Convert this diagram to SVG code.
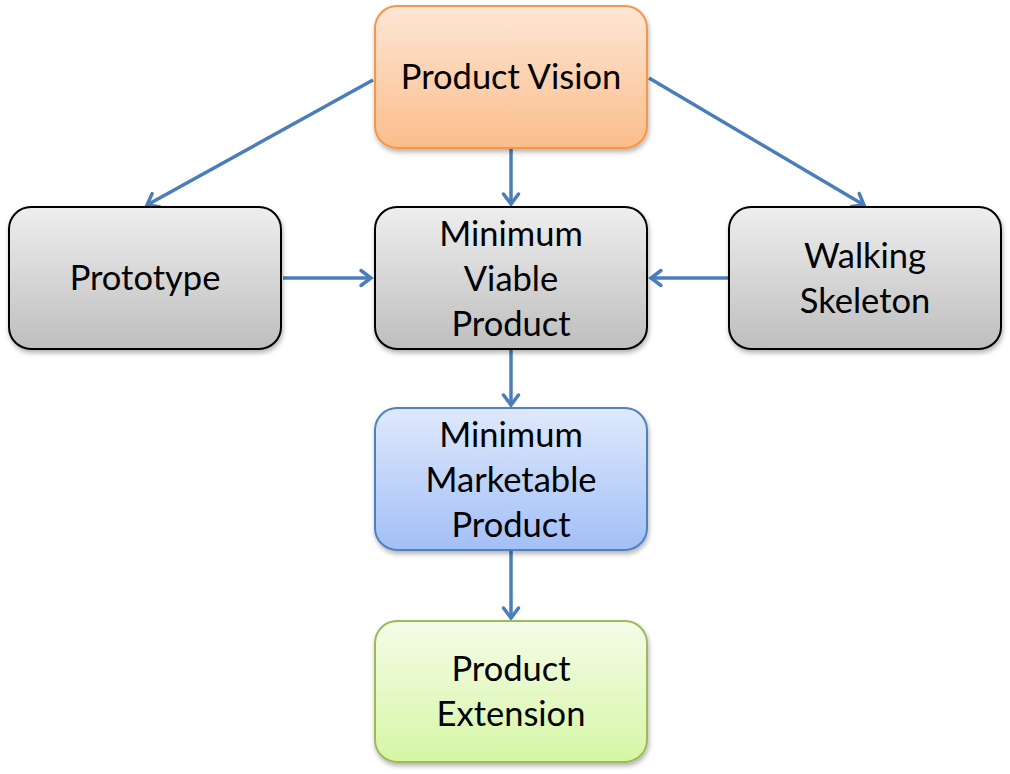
<svg xmlns="http://www.w3.org/2000/svg" width="1010" height="774" viewBox="0 0 1010 774">
<style>
  .node text { font-family: Lato, "Noto Sans", sans-serif; font-size: 34.5px; fill: #000; text-anchor: middle; }
  .box { stroke-width: 2; filter: url(#sh); }
  .conn line { stroke: #4a7ebb; stroke-width: 3.5; fill: none; marker-end: url(#ah); }
</style>
<defs>
  <filter id="sh" x="-10%" y="-10%" width="120%" height="125%">
    <feDropShadow dx="1" dy="3" stdDeviation="2.5" flood-color="#000" flood-opacity="0.3"/>
  </filter>
  <marker id="ah" viewBox="-16 -10 20 20" refX="0" refY="0" markerWidth="20" markerHeight="20" orient="auto" markerUnits="userSpaceOnUse">
    <path d="M-10,-7.5 L0,0 L-10,7.5" fill="none" stroke="#4a7ebb" stroke-width="3.5" stroke-linecap="round" stroke-linejoin="miter"/>
  </marker>
  <linearGradient id="gOr" x1="0" y1="0" x2="0" y2="1">
    <stop offset="0" stop-color="#fde6d6"/><stop offset="1" stop-color="#fbbd8a"/>
  </linearGradient>
  <linearGradient id="gGr" x1="0" y1="0" x2="0" y2="1">
    <stop offset="0" stop-color="#eeeeee"/><stop offset="1" stop-color="#bebebe"/>
  </linearGradient>
  <linearGradient id="gBl" x1="0" y1="0" x2="0" y2="1">
    <stop offset="0" stop-color="#dfe9fc"/><stop offset="1" stop-color="#a2bff6"/>
  </linearGradient>
  <linearGradient id="gGn" x1="0" y1="0" x2="0" y2="1">
    <stop offset="0" stop-color="#f5fce9"/><stop offset="1" stop-color="#d6f6a4"/>
  </linearGradient>
</defs>

<g id="connectors" class="conn">
  <line x1="373" y1="80" x2="147" y2="205"/>
  <line x1="649" y1="78" x2="864" y2="205"/>
  <line x1="511" y1="149" x2="511" y2="204"/>
  <line x1="283" y1="278" x2="371" y2="278"/>
  <line x1="729" y1="278" x2="651" y2="278"/>
  <line x1="511" y1="350" x2="511" y2="405"/>
  <line x1="511" y1="551" x2="511" y2="618"/>
</g>

<g id="product-vision" class="node">
  <rect class="box" x="375" y="6" width="272" height="142" rx="22" fill="url(#gOr)" stroke="#f79646"/>
  <text x="511" y="89">Product Vision</text>
</g>
<g id="prototype" class="node">
  <rect class="box" x="9" y="207" width="272" height="142" rx="22" fill="url(#gGr)" stroke="#000"/>
  <text x="145" y="290">Prototype</text>
</g>
<g id="mvp" class="node">
  <rect class="box" x="375" y="207" width="272" height="142" rx="22" fill="url(#gGr)" stroke="#000"/>
  <text x="511" y="246">Minimum</text>
  <text x="511" y="291">Viable</text>
  <text x="511" y="336">Product</text>
</g>
<g id="walking-skeleton" class="node">
  <rect class="box" x="729" y="207" width="272" height="142" rx="22" fill="url(#gGr)" stroke="#000"/>
  <text x="865" y="268">Walking</text>
  <text x="865" y="313">Skeleton</text>
</g>
<g id="mmp" class="node">
  <rect class="box" x="375" y="408" width="272" height="142" rx="22" fill="url(#gBl)" stroke="#4f81bd"/>
  <text x="511" y="447">Minimum</text>
  <text x="511" y="492">Marketable</text>
  <text x="511" y="537">Product</text>
</g>
<g id="product-extension" class="node">
  <rect class="box" x="375" y="621" width="272" height="141" rx="22" fill="url(#gGn)" stroke="#9bbb59"/>
  <text x="511" y="681">Product</text>
  <text x="511" y="726">Extension</text>
</g>
</svg>
